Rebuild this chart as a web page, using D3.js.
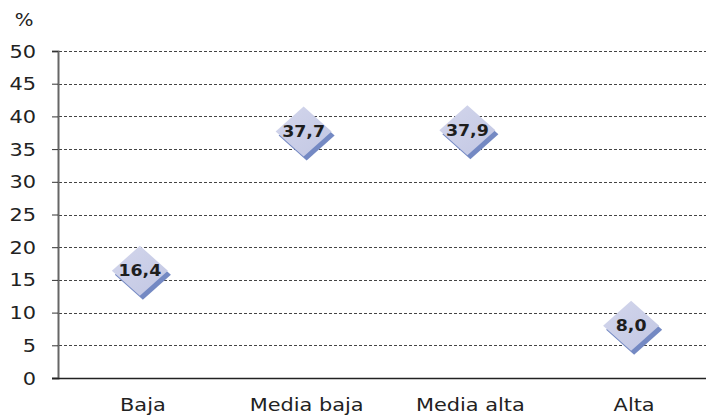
<!DOCTYPE html>
<html>
<head>
<meta charset="utf-8">
<script src="https://cdn.jsdelivr.net/npm/d3@7"></script>
<style>
  body { margin: 0; background: #fff; }
  text { font-family: "DejaVu Sans", Verdana, sans-serif; }
</style>
</head>
<body>
<script>
let categories = ["Baja", "Media baja", "Media alta", "Alta"];
let values = [16.4, 37.7, 37.9, 8.0];
let yTicks = [0, 5, 10, 15, 20, 25, 30, 35, 40, 45, 50];

let width = 706, height = 418;
// the source text is a bit wide, so stretch it horizontally
let sx = 1.16;

let svg = d3.select("body").append("svg")
    .attr("width", width)
    .attr("height", height);

let x = d3.scaleBand().domain(categories).range([58, 713]);
let y = d3.scaleLinear().domain([0, 50]).range([378, 51]);

// gridlines
svg.append("g")
    .selectAll("line")
    .data(yTicks.filter(d => d > 0))
    .enter().append("line")
    .attr("x1", 59).attr("x2", width)
    .attr("y1", d => Math.round(y(d)) + 0.5)
    .attr("y2", d => Math.round(y(d)) + 0.5)
    .attr("stroke", "#444")
    .attr("stroke-dasharray", "3,2");

// y axis (ticks from the axis generator, labels drawn by hand for the stretch)
let yAxis = svg.append("g")
    .attr("transform", "translate(58,0)")
    .call(d3.axisLeft(y).tickValues(yTicks).tickSize(6).tickFormat(""));
yAxis.select(".domain").attr("stroke", "#666").attr("stroke-width", 2);
yAxis.selectAll(".tick line").attr("stroke", "#333");

svg.append("g")
    .selectAll("text")
    .data(yTicks)
    .enter().append("text")
    .attr("transform", d => `translate(36,${y(d) + 6.5}) scale(${sx},1)`)
    .attr("text-anchor", "end")
    .style("font-size", "18px")
    .attr("fill", "#222")
    .text(d => d);

// x axis line
svg.append("line")
    .attr("x1", 52).attr("x2", width)
    .attr("y1", 378.5).attr("y2", 378.5)
    .attr("stroke", "#222")
    .attr("stroke-width", 1.5);

// category labels
svg.append("g")
    .selectAll("text")
    .data(categories)
    .enter().append("text")
    .attr("transform", d => `translate(${x(d) + x.bandwidth() / 2 + 3},411) scale(${sx},1)`)
    .attr("text-anchor", "middle")
    .style("font-size", "18px")
    .attr("fill", "#222")
    .text(d => d);

// unit label
svg.append("text")
    .attr("transform", `translate(24,26) scale(${sx},1)`)
    .attr("text-anchor", "middle")
    .style("font-size", "17px")
    .attr("fill", "#222")
    .text("%");

// diamond markers
let rx = 28, ry = 25;
let diamond = `M0,${-ry}L${rx},0L0,${ry}L${-rx},0Z`;

let defs = svg.append("defs");
let grad = defs.append("linearGradient")
    .attr("id", "dfill")
    .attr("x1", "0").attr("y1", "0").attr("x2", "1").attr("y2", "1");
grad.append("stop").attr("offset", "0").attr("stop-color", "#d3d6ec");
grad.append("stop").attr("offset", "1").attr("stop-color", "#c2c7e3");

let pts = svg.append("g")
    .selectAll("g")
    .data(categories.map((c, i) => ({c: c, v: values[i]})))
    .enter().append("g")
    .attr("transform", d => `translate(${x(d.c) + x.bandwidth() / 2},${y(d.v)})`);

pts.append("path")
    .attr("d", diamond)
    .attr("transform", "translate(3,4)")
    .attr("fill", "#7489c3");

pts.append("path")
    .attr("d", diamond)
    .attr("fill", "url(#dfill)");

pts.append("text")
    .attr("transform", `translate(0,5.5) scale(${sx},1)`)
    .attr("text-anchor", "middle")
    .style("font-size", "15px")
    .style("font-weight", "bold")
    .attr("fill", "#1e1e1e")
    .text(d => d.v.toFixed(1).replace(".", ","));
</script>
</body>
</html>
